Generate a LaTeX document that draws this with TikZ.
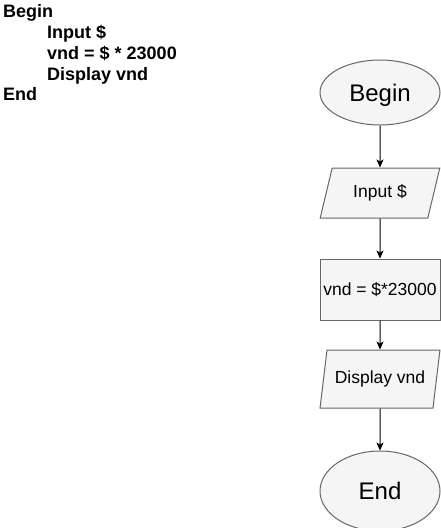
\documentclass[tikz,border=0pt]{standalone}
\usepackage{fontspec}
\setmainfont{Liberation Sans}
\usetikzlibrary{positioning, shapes.geometric, arrows.meta}

\definecolor{shapefill}{HTML}{F5F5F5}
\definecolor{shapeline}{HTML}{666666}

\begin{document}
\begin{tikzpicture}[x=1pt, y=1pt, every node/.style={inner sep=0pt, text centered},
  box/.style={draw=shapeline, fill=shapefill, line width=1pt, minimum width=120pt, font=\fontsize{17.5}{20}\selectfont},
  terminal/.style={box, ellipse, text depth=0pt, font=\fontsize{24}{28}\selectfont},
  io/.style={box, trapezium, trapezium stretches=true},
  code/.style={anchor=base west, font=\bfseries\fontsize{18}{21}\selectfont},
  arr/.style={line width=1pt, -{Stealth[length=8pt, width=7pt, inset=2pt]}}]

\useasboundingbox (0,0) rectangle (441,-528);

  % Pseudocode
  \node (c_begin) [code] at (3,-17) {Begin};
  \node (c_input) [code] at (47,-38) {Input \$};
  \node (c_calc) [code] at (47,-59) {vnd = \$ * 23000};
  \node (c_show) [code] at (47,-80) {Display vnd};
  \node (c_end) [code] at (3,-100) {End};

  % Flowchart nodes
  \node (begin) [terminal, minimum height=65pt] at (380,-92.5) {Begin};
  \node (input) [below=42pt of begin, io, minimum height=50pt,
    trapezium left angle=68, trapezium right angle=112] {Input \$};
  \node (calc) [below=40pt of input, box, rectangle, minimum height=61pt] {vnd = \$*23000};
  \node (show) [below=29pt of calc, io, minimum height=58pt,
    trapezium left angle=70, trapezium right angle=110] {Display vnd};
  \node (end) [below=42pt of show, terminal, minimum height=80pt] {End};

  % Arrows
  \draw[arr] (begin) -- (input);
  \draw[arr] (input) -- (calc);
  \draw[arr] (calc) -- (show);
  \draw[arr] (show) -- (end);

\end{tikzpicture}
\end{document}
